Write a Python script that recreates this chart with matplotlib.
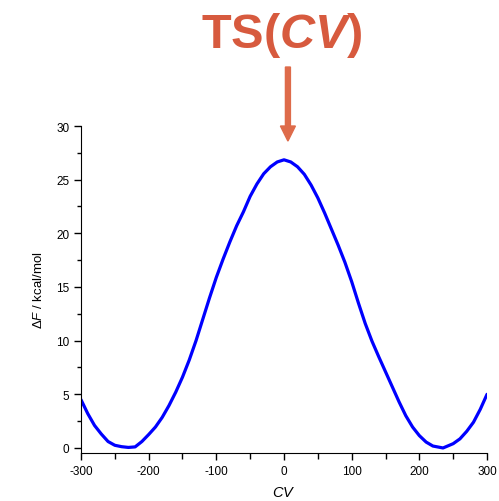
import matplotlib
matplotlib.use("Agg")
import matplotlib.pyplot as plt
from matplotlib.ticker import MultipleLocator

# 字体: Arial 风格
plt.rcParams['font.family'] = ['Liberation Sans', 'DejaVu Sans']
plt.rcParams['mathtext.fontset'] = 'custom'
plt.rcParams['mathtext.rm'] = 'Liberation Sans'
plt.rcParams['mathtext.it'] = 'Liberation Sans:italic'
plt.rcParams['mathtext.bf'] = 'Liberation Sans:bold:italic'
plt.rcParams['axes.unicode_minus'] = False

# free energy profile
cv = [-300, -290, -280, -270, -260, -250, -240, -230, -220, -210,
      -200, -190, -180, -170, -160, -150, -140, -130, -120, -110,
      -100, -90, -80, -70, -60, -50, -40, -30, -20, -10,
      0, 10, 20, 30, 40, 50, 60, 70, 80, 90,
      100, 110, 120, 130, 140, 150, 160, 170, 180, 190,
      200, 210, 220, 235, 250, 260, 270, 280, 290, 300]
dF = [4.5, 3.2, 2.1, 1.3, 0.6, 0.25, 0.12, 0.05, 0.1, 0.6,
      1.25, 1.95, 2.85, 3.95, 5.2, 6.6, 8.2, 10.0, 12.0, 14.0,
      15.9, 17.6, 19.2, 20.7, 22.0, 23.45, 24.6, 25.55, 26.2, 26.65,
      26.85, 26.65, 26.2, 25.5, 24.5, 23.3, 21.9, 20.4, 18.9, 17.3,
      15.5, 13.5, 11.6, 9.95, 8.5, 7.1, 5.7, 4.3, 3.0, 1.95,
      1.15, 0.55, 0.18, 0.0, 0.4, 0.85, 1.55, 2.4, 3.6, 5.0]

title_text = r"TS($\mathbf{CV}$)"


def main():
    fig = plt.figure(figsize=(4.99, 5.02), dpi=100)
    ax = fig.add_axes([0.1623, 0.0956, 0.8137, 0.6514])

    ax.plot(cv, dF, color='#0000FF', lw=2.3, solid_capstyle='round',
            solid_joinstyle='round')

    ax.set_xlim(-300, 300)
    ax.set_ylim(-0.47, 30)
    ax.spines['top'].set_visible(False)
    ax.spines['right'].set_visible(False)

    ax.xaxis.set_major_locator(MultipleLocator(100))
    ax.xaxis.set_minor_locator(MultipleLocator(50))
    ax.yaxis.set_major_locator(MultipleLocator(5))
    ax.yaxis.set_minor_locator(MultipleLocator(2.5))
    ax.tick_params(which='major', direction='out', length=5, width=1, labelsize=8.5)
    ax.tick_params(which='minor', direction='out', length=3, width=1)
    ax.tick_params(axis='x', which='minor', length=4)

    ax.set_xlabel(r"$CV$", fontsize=10.5, labelpad=6)
    ax.set_ylabel(r"$\Delta F$ / kcal/mol", fontsize=9.5, labelpad=8)

    fig.text(0.565, 0.930, title_text, fontsize=35, fontweight='bold',
             color='#D75A3E', ha='center', va='center')
    fig.patches.append(matplotlib.patches.FancyArrow(
        0.577, 0.8645, 0, -0.1175, width=0.010, head_width=0.030,
        head_length=0.03, length_includes_head=False, color='#DE6B4A',
        transform=fig.transFigure, figure=fig))

    fig.savefig("out.png", dpi=100)


if __name__ == '__main__':
    main()
